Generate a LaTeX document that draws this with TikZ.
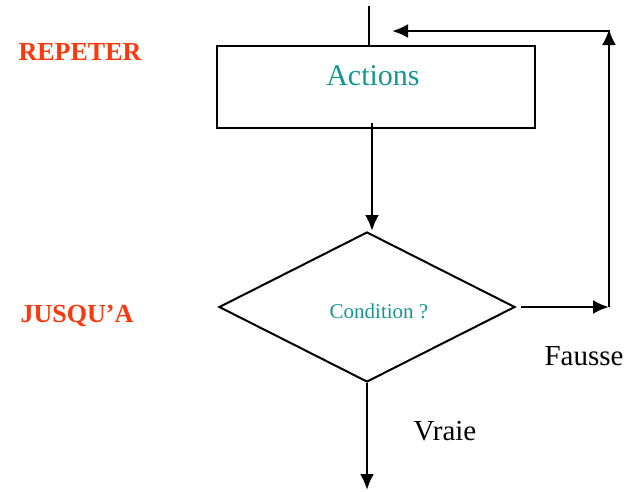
\documentclass[tikz,border=0pt]{standalone}
\usepackage{fontspec}
\setmainfont{Liberation Serif}
\usetikzlibrary{arrows.meta,shapes.geometric}
\definecolor{tealtxt}{RGB}{20,150,150}
\definecolor{kwred}{RGB}{255,55,10}
\tikzset{
  line/.style={line width=2.5pt},
  arr/.style={line, -{Latex[length=16pt,width=14pt]}},
  keyword/.style={text=kwred, font=\fontsize{26}{30}\selectfont\bfseries},
  plain/.style={font=\fontsize{29}{34}\selectfont},
}
\begin{document}
\begin{tikzpicture}[x=1pt,y=-1pt]
\useasboundingbox (0,0) rectangle (635,491);

% action block
\node[draw, line, rectangle, minimum width=318pt, minimum height=82pt, inner sep=0pt] (box) at (376,87) {};
\node[text=tealtxt, font=\fontsize{30}{34}\selectfont] (acttxt) at (373,76) {Actions};

% test
\node[draw, line width=2pt, diamond, shape aspect=1.97, minimum width=296pt, minimum height=150pt, inner sep=0pt] (dia) at (367,307) {};
\node[text=tealtxt, font=\fontsize{21}{24}\selectfont] (condtxt) at (379,311) {Condition ?};

% keywords
\node[keyword] (rep) at (80,52) {REPETER};
\node[keyword] (jus) at (77,316) {JUSQU'A};

% branch labels
\node[plain] (faux) at (584,356) {Fausse};
\node[plain] (vrai) at (445,431) {Vraie};

% connectors
\coordinate (entry) at (369,6);
\coordinate (exitp) at (370,490);
\coordinate (fstart) at (521,307);
\coordinate (corner) at (609,307);
\coordinate (topR) at (609,31);
\coordinate (back) at (392,31);

\draw[line] (entry) -- (entry |- box.north);
\draw[arr] (372,123) -- (372,231);
\draw[arr] (fstart) -- (corner);
\draw[arr] (corner) -- ([yshift=2pt]topR);
\draw[arr] ([xshift=1pt]topR) -- (back);
\draw[arr] (dia.south) -- (dia.south |- exitp);
\end{tikzpicture}
\end{document}
